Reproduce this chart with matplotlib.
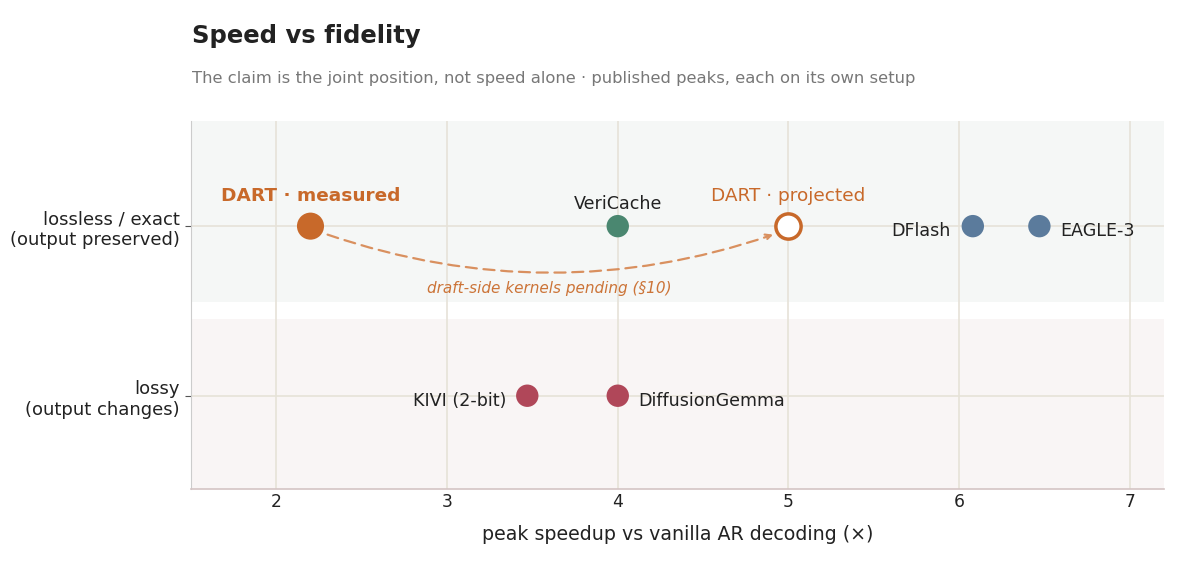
import numpy as np
from matplotlib import pyplot as plt

# fidelity rows: 1 = lossless / exact, 0 = lossy
names = ['DART · measured', 'VeriCache', 'DART · projected', 'DFlash', 'EAGLE-3', 'KIVI (2-bit)', 'DiffusionGemma']
speedup = [2.2, 4.0, 5.0, 6.08, 6.47, 3.47, 4.0]
fidelity = [1, 1, 1, 1, 1, 0, 0]
row_labels = ['lossy\n(output changes)', 'lossless / exact\n(output preserved)']
xticks = [2, 3, 4, 5, 6, 7]

ORANGE = '#C8692A'
GREEN = '#4A8770'
BLUE = '#5B7B9C'
RED = '#B04759'
INK = '#222222'

plt.rcParams['font.family'] = ['DejaVu Sans']
fig = plt.figure(figsize=(12, 5.75), dpi=100)
ax = fig.add_axes([191/1200, 1-489/575, (1164-191)/1200, (489-121)/575])

ax.set_xlim(1.5, 7.2)
ax.set_ylim(-0.55, 1.62)

# row bands
ax.axhspan(0.55, 1.62, color='#F5F7F6', zorder=0, lw=0)
ax.axhspan(-0.55, 0.45, color='#F9F5F5', zorder=0, lw=0)

ax.set_xticks(xticks)
ax.set_yticks([0, 1])
ax.set_yticklabels(row_labels, fontsize=13, color=INK)
ax.tick_params(axis='x', length=0, labelsize=12.3, colors=INK, pad=3)
ax.tick_params(axis='y', length=4, color='#555555', pad=4)
ax.grid(True, color='#E6E2D8', lw=1.2, zorder=1)
ax.set_axisbelow(True)
for s in ['top', 'right']:
    ax.spines[s].set_visible(False)
ax.spines['left'].set_color('#CCCCCC')
ax.spines['bottom'].set_color('#D4C4C4')
ax.spines['bottom'].set_linewidth(1.2)

ax.set_xlabel('peak speedup vs vanilla AR decoding (×)', fontsize=13.7, color=INK, labelpad=10)

colors = [ORANGE, GREEN, 'white', BLUE, BLUE, RED, RED]
sizes = [380, 260, 330, 260, 260, 260, 260]
for i in range(len(names)):
    if i == 2:
        ax.scatter(speedup[i], fidelity[i], s=sizes[i], facecolor='white', edgecolor=ORANGE, linewidth=2.5, zorder=4)
    else:
        ax.scatter(speedup[i], fidelity[i], s=sizes[i], color=colors[i], edgecolor='none', zorder=4)

# labels
ax.text(speedup[0], fidelity[0] + 0.18, names[0], ha='center', va='center', fontsize=13.3, fontweight='bold', color=ORANGE)
ax.text(speedup[1], fidelity[1] + 0.13, names[1], ha='center', va='center', fontsize=12.6, color=INK)
ax.text(speedup[2], fidelity[2] + 0.18, names[2], ha='center', va='center', fontsize=13.3, color=ORANGE)
ax.text(speedup[3] - 0.13, fidelity[3] - 0.03, names[3], ha='right', va='center', fontsize=12.6, color=INK)
ax.text(speedup[4] + 0.12, fidelity[4] - 0.03, names[4], ha='left', va='center', fontsize=12.6, color=INK)
ax.text(speedup[5] - 0.12, fidelity[5] - 0.03, names[5], ha='right', va='center', fontsize=12.6, color=INK)
ax.text(speedup[6] + 0.12, fidelity[6] - 0.03, names[6], ha='left', va='center', fontsize=12.6, color=INK)

# projection arrow
ax.annotate('', xy=(speedup[2] - 0.09, fidelity[2] - 0.05), xytext=(speedup[0] + 0.1, fidelity[0] - 0.05),
            arrowprops=dict(arrowstyle='->', color='#D9905F', lw=1.6, linestyle=(0, (5, 3)),
                            connectionstyle='arc3,rad=0.17', shrinkA=0, shrinkB=0), zorder=3)
ax.text(3.6, 0.635, 'draft-side kernels pending (§10)', ha='center', va='center', fontsize=11,
        style='italic', color='#CC7438')

fig.text(192/1200, 1-36/575, 'Speed vs fidelity', fontsize=17.5, fontweight='bold', color=INK, va='center')
fig.text(192/1200, 1-78/575, 'The claim is the joint position, not speed alone · published peaks, each on its own setup',
         fontsize=11.75, color='#777777', va='center')

fig.savefig('out.png', dpi=100, facecolor='white')
